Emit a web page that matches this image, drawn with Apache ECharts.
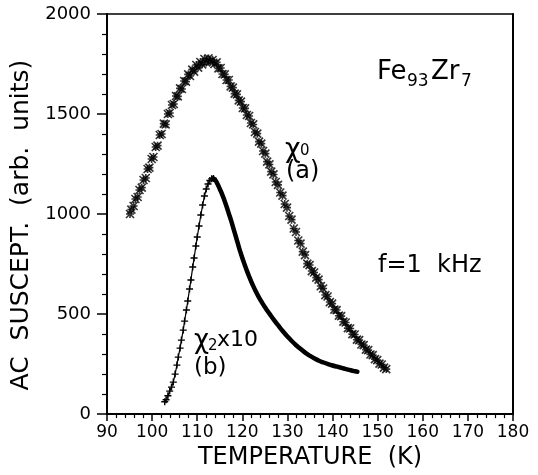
<!DOCTYPE html>
<html>
<head>
<meta charset="utf-8">
<script src="https://cdn.jsdelivr.net/npm/echarts@6/dist/echarts.min.js"></script>
<style>html,body{margin:0;padding:0;background:#fff}#c{width:538px;height:475px}</style>
</head>
<body>
<div id="c"></div>
<script>
// Tick labels
const xTicks = [90,100,110,120,130,140,150,160,170,180];
const yTicks = [0,500,1000,1500,2000];

// Series (a): chi_0
const aT = [95.1,95.4,95.9,96.3,96.8,97.2,97.7,98.1,98.6,99.0,99.4,99.9,100.3,100.8,101.2,101.7,102.1,102.6,103.0,103.5,103.9,104.4,104.8,105.3,105.7,106.2,106.6,107.1,107.5,108.0,108.4,108.9,109.3,109.8,110.2,110.7,111.1,111.6,112.0,112.5,112.9,113.4,113.8,114.3,114.7,115.2,115.6,116.1,116.5,117.0,117.4,117.9,118.3,118.8,119.2,119.7,120.1,120.6,121.0,121.5,121.9,122.4,122.8,123.3,123.7,124.2,124.6,125.1,125.5,126.0,126.4,126.9,127.4,127.9,128.4,128.9,129.4,129.9,130.4,130.9,131.4,131.9,132.4,132.9,133.4,133.9,134.4,134.9,135.4,135.9,136.4,136.9,137.4,137.9,138.4,138.9,139.4,139.9,140.4,140.9,141.4,141.9,142.4,142.9,143.4,143.9,144.4,144.9,145.4,145.9,146.4,146.9,147.4,147.9,148.4,148.9,149.4,149.9,150.4,150.9,151.4,151.9];
const aV = [1000,1022,1040,1075,1085,1120,1132,1170,1180,1225,1232,1275,1285,1335,1342,1395,1400,1452,1448,1500,1505,1545,1550,1590,1588,1628,1625,1665,1662,1698,1690,1722,1712,1745,1732,1760,1748,1775,1758,1778,1762,1770,1750,1758,1728,1730,1700,1698,1670,1670,1638,1632,1602,1598,1568,1562,1530,1528,1495,1490,1455,1448,1410,1402,1362,1352,1315,1302,1262,1248,1212,1198,1160,1146,1108,1092,1050,1032,990,972,928,910,868,852,812,795,752,745,715,708,682,672,640,628,595,588,560,552,522,520,492,490,462,458,430,428,400,398,372,370,348,345,322,320,298,295,275,270,252,248,232,225];

// Series (b): chi_2 x 10, rising branch and falling branch
const bRiseT = [102.8,103.1,103.5,103.9,104.3,104.7,105.1,105.5,105.8,106.2,106.5,106.9,107.2,107.6,107.9,108.3,108.6,109.0,109.3,109.7,110.0,110.4,110.8,111.2,111.6,112.0,112.4,112.8,113.2,113.6];
const bRiseV = [62,72,92,115,135,160,200,245,285,330,370,420,465,520,565,625,670,735,780,840,885,940,995,1045,1090,1125,1150,1168,1176,1178];
const bFallT = [113.6,114.0,114.5,115.0,115.5,116.0,116.5,117.0,117.5,118.0,118.5,119.0,119.5,120.0,120.5,121.0,121.5,122.0,122.5,123.0,123.5,124.0,124.5,125.0,125.5,126.0,127.0,128.0,129.0,130.0,131.0,132.0,133.0,134.0,135.0,136.0,137.0,138.0,139.0,140.0,141.0,142.0,143.0,144.0,145.0,145.5];
const bFallV = [1178,1170,1150,1125,1100,1070,1038,1003,968,930,892,853,815,780,748,717,688,661,636,613,591,571,552,535,518,502,471,442,414,388,364,343,324,306,291,278,267,258,250,243,237,231,225,219,214,212];

const zip = (t, v) => t.map((x, i) => [x, v[i]]);
const FONT = 'DejaVu Sans';

const chart = echarts.init(document.getElementById('c'), null, {renderer: 'canvas'});
const axisLineStyle = {color: '#000', width: 2};

chart.setOption({
  animation: false,
  backgroundColor: '#fff',
  grid: {left: 107, right: 25, top: 14, bottom: 57, containLabel: false},
  xAxis: [{
    type: 'value', min: xTicks[0], max: xTicks[xTicks.length - 1], interval: 10, position: 'bottom',
    axisLine: {show: true, onZero: false, lineStyle: axisLineStyle},
    axisTick: {show: true, length: 7, lineStyle: {color: '#000', width: 1.5}},
    minorTick: {show: true, splitNumber: 5, length: 4, lineStyle: {color: '#000', width: 1.2}},
    splitLine: {show: false}, minorSplitLine: {show: false},
    axisLabel: {fontFamily: FONT, fontSize: 17, color: '#000', margin: 10},
    name: 'TEMPERATURE  (K)', nameLocation: 'middle', nameGap: 15,
    nameTextStyle: {fontFamily: FONT, fontSize: 24, color: '#000', verticalAlign: 'top'}
  }, {
    type: 'value', min: 90, max: 180, position: 'top',
    axisLine: {show: true, onZero: false, lineStyle: {color: '#000', width: 1.5}},
    axisTick: {show: false}, axisLabel: {show: false}, splitLine: {show: false}
  }],
  yAxis: [{
    type: 'value', min: yTicks[0], max: yTicks[yTicks.length - 1], interval: 500, position: 'left',
    axisLine: {show: true, onZero: false, lineStyle: axisLineStyle},
    axisTick: {show: true, length: 10, lineStyle: {color: '#000', width: 1.5}},
    minorTick: {show: true, splitNumber: 5, length: 5, lineStyle: {color: '#000', width: 1.2}},
    splitLine: {show: false}, minorSplitLine: {show: false},
    axisLabel: {fontFamily: FONT, fontSize: 18, color: '#000', margin: 16, formatter: v => String(v)},
    name: 'AC  SUSCEPT.  (arb.  units)', nameLocation: 'middle', nameGap: 66,
    nameTextStyle: {fontFamily: FONT, fontSize: 25, color: '#000', padding: [0, 22, 0, 0]}
  }, {
    type: 'value', min: 0, max: 2000, position: 'right',
    axisLine: {show: true, onZero: false, lineStyle: axisLineStyle},
    axisTick: {show: false}, axisLabel: {show: false}, splitLine: {show: false}
  }],
  series: [{
    name: 'chi0 (a)', type: 'scatter', xAxisIndex: 0, yAxisIndex: 0,
    data: zip(aT, aV),
    symbol: 'path://M0,0L10,10M10,0L0,10M5,0L5,10M0,5L10,5', symbolSize: 8,
    itemStyle: {color: '#000', borderColor: '#000', borderWidth: 1.6}
  }, {
    name: 'chi2x10 (b) rise', type: 'line', xAxisIndex: 0, yAxisIndex: 0,
    data: zip(bRiseT, bRiseV),
    showSymbol: true, symbol: 'path://M5,0L5,10M0,5L10,5', symbolSize: 7,
    itemStyle: {color: '#000', borderColor: '#000', borderWidth: 1.4},
    lineStyle: {color: '#000', width: 1.2}
  }, {
    name: 'chi2x10 (b) fall', type: 'line', xAxisIndex: 0, yAxisIndex: 0,
    data: zip(bFallT, bFallV), smooth: 0.5,
    showSymbol: false, symbol: 'none',
    lineStyle: {color: '#000', width: 4.5, cap: 'round'}
  }],
  graphic: [
    {type: 'text', x: 377, y: 72, style: {text: 'Fe', font: '26px "DejaVu Sans"', fill: '#000', align: 'left', verticalAlign: 'middle'}},
    {type: 'text', x: 407, y: 82, style: {text: '93', font: '17px "DejaVu Sans"', fill: '#000', align: 'left', verticalAlign: 'middle'}},
    {type: 'text', x: 431, y: 72, style: {text: 'Zr', font: '26px "DejaVu Sans"', fill: '#000', align: 'left', verticalAlign: 'middle'}},
    {type: 'text', x: 461, y: 82, style: {text: '7', font: '17px "DejaVu Sans"', fill: '#000', align: 'left', verticalAlign: 'middle'}},
    {type: 'text', x: 378, y: 266, style: {text: 'f=1  kHz', font: '24px "DejaVu Sans"', fill: '#000', align: 'left', verticalAlign: 'middle'}},
    {type: 'text', x: 285, y: 150, style: {text: 'χ', font: '27px "DejaVu Sans"', fill: '#000', align: 'left', verticalAlign: 'middle'}},
    {type: 'text', x: 300, y: 151, style: {text: '0', font: '15px "DejaVu Sans"', fill: '#000', align: 'left', verticalAlign: 'middle'}},
    {type: 'text', x: 286, y: 172, style: {text: '(a)', font: '24px "DejaVu Sans"', fill: '#000', align: 'left', verticalAlign: 'middle'}},
    {type: 'text', x: 194, y: 341, style: {text: 'χ', font: '26px "DejaVu Sans"', fill: '#000', align: 'left', verticalAlign: 'middle'}},
    {type: 'text', x: 208, y: 346, style: {text: '2', font: '15px "DejaVu Sans"', fill: '#000', align: 'left', verticalAlign: 'middle'}},
    {type: 'text', x: 217, y: 340, style: {text: 'x10', font: '22px "DejaVu Sans"', fill: '#000', align: 'left', verticalAlign: 'middle'}},
    {type: 'text', x: 194, y: 368, style: {text: '(b)', font: '23px "DejaVu Sans"', fill: '#000', align: 'left', verticalAlign: 'middle'}}
  ]
});
</script>
</body>
</html>
